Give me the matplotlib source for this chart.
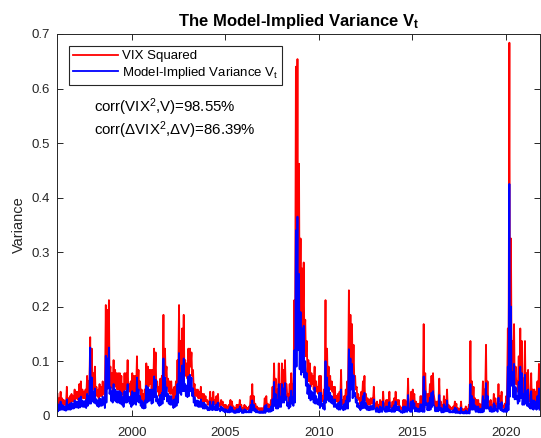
import numpy as np
import matplotlib
matplotlib.use("Agg")
import matplotlib.pyplot as plt

plt.rcParams['font.family'] = ['Liberation Sans', 'DejaVu Sans']
plt.rcParams['mathtext.fontset'] = 'custom'
plt.rcParams['mathtext.rm'] = 'Liberation Sans'
plt.rcParams['mathtext.it'] = 'Liberation Sans'
plt.rcParams['mathtext.bf'] = 'Liberation Sans:bold'

# monthly high / low readings, Jan 1996 .. Oct 2021, in units of 1e-3
vix_sq_hi = [
    40, 32, 44, 32, 29, 26, 53, 32, 36, 40, 36, 48,          # 1996
    44, 44, 58, 63, 48, 44, 48, 73, 63, 144, 123, 78,        # 1997
    90, 53, 48, 58, 53, 63, 58, 203, 194, 212, 90, 78,       # 1998
    102, 84, 78, 78, 78, 73, 58, 78, 78, 102, 58, 63,        # 1999
    78, 73, 73, 109, 84, 63, 48, 40, 48, 96, 90, 84,         # 2000
    84, 84, 123, 116, 63, 53, 68, 73, 185, 123, 90, 68,      # 2001
    63, 63, 48, 53, 63, 102, 203, 137, 160, 185, 102, 96,    # 2002
    123, 123, 116, 84, 58, 48, 48, 44, 53, 40, 40, 36,       # 2003
    29, 26, 44, 32, 44, 29, 36, 40, 22, 29, 26, 20,          # 2004
    20, 17, 20, 29, 26, 17, 14, 20, 20, 29, 20, 14,          # 2005
    20, 17, 14, 17, 36, 58, 36, 22, 17, 14, 14, 14,          # 2006
    14, 32, 36, 22, 20, 29, 53, 96, 68, 48, 96, 58,          # 2007
    96, 84, 102, 58, 40, 58, 78, 58, 212, 640, 654, 462,     # 2008
    325, 270, 281, 176, 137, 102, 96, 78, 73, 90, 63, 53,    # 2009
    73, 73, 36, 48, 212, 123, 90, 73, 63, 53, 53, 36,        # 2010
    40, 44, 84, 29, 36, 48, 63, 230, 185, 168, 130, 73,      # 2011
    53, 40, 32, 44, 63, 73, 40, 32, 29, 32, 32, 53,          # 2012
    20, 26, 20, 29, 26, 44, 22, 29, 29, 44, 17, 26,          # 2013
    32, 44, 29, 29, 17, 14, 29, 29, 26, 68, 20, 44,          # 2014
    48, 40, 26, 22, 22, 36, 36, 168, 78, 40, 40, 58,         # 2015
    73, 78, 29, 26, 26, 68, 26, 20, 36, 29, 48, 20,          # 2016
    17, 14, 17, 26, 22, 14, 12, 26, 12, 12, 17, 12,          # 2017
    20, 137, 63, 53, 32, 29, 29, 22, 20, 63, 48, 130,        # 2018
    63, 26, 29, 20, 40, 32, 20, 58, 36, 44, 17, 22,          # 2019
    36, 160, 684, 325, 137, 168, 90, 63, 109, 160, 137, 68,  # 2020
    137, 78, 84, 36, 78, 48, 48, 44, 63, 95,                 # 2021
]
vix_sq_lo = [
    17, 20, 22, 22, 20, 17, 22, 22, 22, 26, 26, 29,
    32, 29, 32, 36, 32, 32, 29, 36, 44, 44, 53, 48,
    44, 36, 32, 36, 36, 40, 29, 48, 102, 78, 53, 48,
    58, 53, 48, 48, 44, 40, 32, 48, 48, 53, 44, 32,
    40, 44, 40, 53, 48, 36, 29, 26, 29, 48, 53, 58,
    48, 48, 68, 53, 44, 36, 40, 44, 63, 73, 53, 44,
    40, 40, 29, 32, 36, 48, 84, 78, 90, 90, 73, 68,
    73, 90, 73, 48, 36, 36, 32, 32, 32, 26, 26, 26,
    20, 20, 22, 20, 22, 20, 20, 22, 17, 20, 17, 12,
    14, 12, 12, 14, 14, 10, 10, 12, 12, 17, 10, 10,
    12, 12, 12, 12, 12, 20, 17, 12, 12, 10, 10, 10,
    10, 10, 17, 14, 14, 17, 20, 36, 26, 26, 32, 32,
    48, 48, 58, 36, 26, 32, 44, 36, 48, 160, 230, 160,
    144, 160, 137, 109, 78, 63, 53, 58, 48, 44, 44, 40,
    29, 36, 26, 22, 48, 58, 53, 48, 44, 32, 32, 26,
    22, 22, 26, 20, 22, 26, 26, 53, 96, 63, 73, 48,
    32, 29, 20, 26, 29, 29, 22, 20, 20, 22, 22, 26,
    14, 14, 12, 14, 14, 22, 14, 14, 17, 17, 14, 14,
    14, 20, 20, 17, 12, 10, 12, 14, 14, 20, 14, 14,
    26, 17, 17, 14, 14, 17, 14, 14, 40, 20, 20, 22,
    32, 40, 17, 17, 17, 20, 12, 12, 14, 17, 17, 12,
    12, 12, 12, 10, 10, 10, 9, 10, 9, 8, 8, 8,
    8, 22, 22, 22, 14, 14, 12, 12, 12, 14, 26, 26,
    26, 17, 14, 14, 17, 20, 14, 26, 20, 17, 14, 14,
    14, 20, 63, 96, 63, 58, 58, 44, 53, 63, 40, 40,
    44, 36, 32, 26, 26, 22, 26, 22, 26, 22,
]
model_v_hi = [
    22, 20, 26, 20, 18, 16, 30, 20, 22, 24, 22, 28,
    26, 26, 32, 35, 28, 26, 28, 40, 36, 125, 70, 45,
    50, 30, 28, 32, 30, 35, 32, 110, 105, 125, 52, 45,
    58, 48, 45, 45, 45, 42, 34, 45, 45, 58, 34, 36,
    45, 42, 42, 70, 48, 36, 28, 24, 28, 55, 52, 48,
    48, 48, 72, 66, 36, 30, 38, 42, 105, 70, 52, 40,
    36, 36, 28, 30, 36, 58, 115, 78, 92, 105, 58, 55,
    72, 75, 70, 50, 34, 28, 28, 26, 30, 24, 24, 21,
    17, 15, 26, 19, 26, 17, 21, 24, 13, 17, 15, 12,
    12, 10, 12, 17, 15, 10, 8, 12, 12, 17, 12, 8,
    12, 10, 8, 10, 20, 28, 20, 13, 10, 8, 8, 8,
    8, 18, 20, 13, 12, 17, 30, 62, 40, 28, 58, 35,
    58, 50, 60, 34, 24, 34, 46, 34, 120, 340, 365, 260,
    190, 160, 165, 100, 78, 58, 55, 45, 42, 52, 36, 30,
    42, 42, 21, 28, 100, 70, 52, 42, 36, 30, 30, 21,
    23, 25, 48, 17, 21, 28, 36, 122, 105, 95, 74, 42,
    30, 23, 18, 25, 36, 42, 23, 18, 17, 18, 18, 30,
    12, 15, 12, 17, 15, 26, 13, 17, 17, 25, 10, 15,
    19, 26, 17, 17, 10, 8, 17, 17, 15, 38, 12, 26,
    28, 23, 15, 13, 13, 21, 21, 72, 45, 23, 23, 33,
    42, 45, 17, 15, 15, 38, 15, 12, 21, 17, 28, 12,
    10, 8, 10, 15, 13, 8, 7, 15, 7, 7, 10, 7,
    12, 58, 36, 30, 19, 17, 17, 13, 12, 36, 28, 60,
    36, 15, 17, 12, 23, 19, 12, 33, 21, 25, 10, 13,
    21, 90, 425, 200, 80, 95, 52, 36, 62, 90, 78, 40,
    75, 45, 48, 21, 45, 28, 28, 25, 36, 50,
]
model_v_lo = [
    8, 10, 11, 11, 10, 9, 11, 11, 11, 13, 13, 15,
    15, 14, 15, 17, 16, 16, 14, 18, 22, 22, 26, 24,
    22, 18, 16, 18, 18, 20, 14, 24, 50, 40, 27, 24,
    28, 26, 24, 24, 22, 20, 16, 24, 24, 26, 22, 16,
    20, 22, 20, 26, 24, 18, 14, 13, 14, 24, 26, 28,
    22, 24, 34, 26, 22, 18, 20, 22, 30, 36, 26, 22,
    20, 20, 14, 16, 18, 24, 42, 38, 45, 45, 36, 34,
    36, 45, 36, 24, 18, 18, 16, 16, 16, 13, 13, 13,
    10, 10, 11, 10, 11, 10, 10, 11, 8, 10, 8, 6,
    7, 6, 6, 7, 7, 5, 5, 6, 6, 8, 5, 5,
    6, 6, 6, 6, 6, 10, 8, 6, 6, 5, 5, 5,
    5, 5, 8, 7, 7, 8, 10, 18, 13, 13, 16, 16,
    24, 24, 29, 18, 13, 16, 22, 18, 24, 90, 120, 85,
    75, 80, 70, 55, 40, 32, 28, 30, 24, 22, 22, 20,
    14, 18, 13, 11, 24, 29, 26, 24, 22, 16, 16, 13,
    11, 11, 13, 10, 11, 13, 13, 26, 48, 32, 36, 24,
    16, 14, 10, 13, 14, 14, 11, 10, 10, 11, 11, 13,
    7, 7, 6, 7, 7, 11, 7, 7, 8, 8, 7, 7,
    7, 10, 10, 8, 6, 5, 6, 7, 7, 10, 7, 7,
    13, 8, 8, 7, 7, 8, 7, 7, 20, 10, 10, 11,
    16, 20, 8, 8, 8, 10, 6, 6, 7, 8, 8, 6,
    6, 6, 6, 5, 5, 5, 4, 5, 4, 4, 4, 4,
    4, 11, 11, 11, 7, 7, 6, 6, 6, 7, 13, 13,
    13, 8, 7, 7, 8, 10, 7, 13, 10, 8, 7, 7,
    7, 10, 35, 55, 34, 30, 30, 22, 26, 32, 20, 20,
    22, 18, 16, 13, 13, 11, 13, 11, 13, 11,
]
start_year = 1996
x_ticks = [2000, 2005, 2010, 2015, 2020]
y_ticks = [0, 0.1, 0.2, 0.3, 0.4, 0.5, 0.6, 0.7]
corr_level = 98.55
corr_diff = 86.39


def zigzag(hi, lo):
    # alternate each month's high and low so the line fills a band
    months = np.arange(len(hi))
    t = np.empty(2 * len(hi))
    v = np.empty(2 * len(hi))
    t[0::2] = start_year + (months + 0.3) / 12
    t[1::2] = start_year + (months + 0.7) / 12
    v[0::2] = np.array(hi) / 1000
    v[1::2] = np.array(lo) / 1000
    return t, v


gray = (0.15, 0.15, 0.15)
fig = plt.figure(figsize=(5.41, 4.38), dpi=100)
ax = fig.add_axes([0.1054, 0.0509, 0.8928, 0.8715])

t_r, v_r = zigzag(vix_sq_hi, vix_sq_lo)
t_b, v_b = zigzag(model_v_hi, model_v_lo)
ax.plot(t_r, v_r, color='red', lw=1.3, label='VIX Squared')
ax.plot(t_b, v_b, color='blue', lw=1.3, label='Model-Implied Variance V$_\\mathregular{t}$')

ax.set_xlim(1996.0, 2021.83)
ax.set_ylim(0, 0.7)
ax.set_xticks(x_ticks)
ax.set_yticks(y_ticks)
ax.set_yticklabels(['0' if y == 0 else f'{y:.1f}' for y in y_ticks])
ax.tick_params(direction='in', top=True, right=True, length=4, width=0.7,
               colors=gray, labelsize=9.5)
ax.tick_params(axis='x', pad=8)
ax.tick_params(axis='y', pad=5)
for s in ax.spines.values():
    s.set_color(gray)
    s.set_linewidth(0.7)

ax.set_ylabel('Variance', fontsize=10.5, color=gray, labelpad=4)
ax.set_title('The Model-Implied Variance V$_\\mathbf{t}$', fontsize=12,
             fontweight='bold', pad=6)

leg = ax.legend(loc='upper left', bbox_to_anchor=(0.0248, 0.9686), borderaxespad=0,
                fancybox=False, framealpha=1, edgecolor=gray, fontsize=9.5,
                handlelength=3.4, handletextpad=0.3, borderpad=0.3, labelspacing=0.2)
leg.get_frame().set_linewidth(0.8)

ax.text(0.0766, 0.8095, f'corr(VIX$^\\mathregular{{2}}$,V)={corr_level:.2f}%',
        transform=ax.transAxes, va='center', fontsize=10.8)
ax.text(0.0766, 0.7485, f'corr(ΔVIX$^\\mathregular{{2}}$,ΔV)={corr_diff:.2f}%',
        transform=ax.transAxes, va='center', fontsize=10.8)

fig.savefig('out.png', dpi=100)
